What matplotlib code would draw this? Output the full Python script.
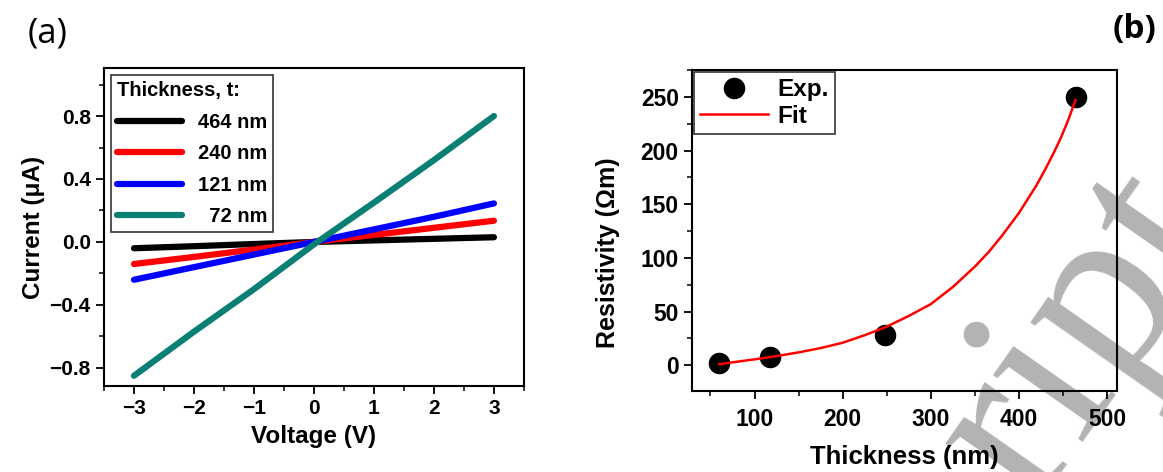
import matplotlib
matplotlib.use("Agg")
import matplotlib.pyplot as plt
from matplotlib.ticker import MultipleLocator

plt.rcParams["font.family"] = ["Liberation Sans", "DejaVu Sans"]
plt.rcParams["font.weight"] = "bold"

# (a) I-V curves
voltage = [-3, -2, -1, 0, 1, 2, 3]
i_464 = [-0.04, -0.027, -0.013, 0.0, 0.01, 0.02, 0.03]
i_240 = [-0.14, -0.095, -0.048, 0.0, 0.045, 0.09, 0.135]
i_121 = [-0.24, -0.16, -0.08, 0.0, 0.08, 0.16, 0.245]
i_72 = [-0.85, -0.57, -0.30, -0.015, 0.25, 0.52, 0.80]
iv_labels = ["464 nm", "240 nm", "121 nm", "\u200772 nm"]
iv_colors = ["black", "#ff0000", "#0000ff", "#0a7f74"]

# (b) resistivity vs thickness
thick_exp = [60, 118, 248, 465]
rho_exp = [2, 8, 28, 250]
thick_fit = [60, 100, 125, 150, 175, 200, 225, 250, 275, 300, 325, 350, 365, 380,
             390, 400, 410, 420, 430, 440, 448, 456, 464]
rho_fit = [1, 5.5, 8.5, 12, 16, 21, 28, 36, 46, 57, 73, 92, 105, 120,
           131, 142, 155, 168, 183, 199, 213, 229, 247]

fig = plt.figure(figsize=(11.63, 4.72), dpi=100)

# ---- panel (a) ----
ax1 = fig.add_axes([0.0894, 0.1822, 0.3611, 0.6737])
for ys, lab, col in zip([i_464, i_240, i_121, i_72], iv_labels, iv_colors):
    ax1.plot(voltage, ys, color=col, lw=4.5, label=lab, solid_capstyle="round")
ax1.set_xlim(-3.5, 3.5)
ax1.set_ylim(-0.915, 1.105)
ax1.set_xticks([-3, -2, -1, 0, 1, 2, 3])
ax1.set_yticks([-0.8, -0.4, 0.0, 0.4, 0.8])
ax1.xaxis.set_minor_locator(MultipleLocator(0.5))
ax1.yaxis.set_minor_locator(MultipleLocator(0.2))
ax1.tick_params(which="major", length=6, width=1.3, direction="out", labelsize=15)
ax1.tick_params(which="minor", length=3.5, width=1.1, direction="out")
ax1.set_xlabel("Voltage (V)", fontsize=17.5, fontweight="bold", labelpad=5)
ax1.set_ylabel("Current (\u03bcA)", fontsize=17.5, fontweight="bold", labelpad=3)
for s in ax1.spines.values():
    s.set_linewidth(1.5)
leg1 = ax1.legend(title="Thickness, t:", loc="upper left", fontsize=14.5,
                  title_fontproperties={"weight": "bold", "size": 14.5},
                  frameon=True, fancybox=False, edgecolor="black",
                  handlelength=3.2, borderaxespad=0.35, labelspacing=0.62,
                  borderpad=0.3, alignment="left")
leg1.get_frame().set_linewidth(1.2)
for t in leg1.get_texts():
    t.set_ha("right")

# ---- panel (b) ----
ax2 = fig.add_axes([0.595, 0.1716, 0.3654, 0.680])
ax2.plot(thick_exp, rho_exp, "o", color="black", ms=14.5, label="Exp.", zorder=2)
ax2.plot(thick_fit, rho_fit, color="#ff0000", lw=1.8, label="Fit", zorder=3)
ax2.set_xlim(29, 511)
ax2.set_ylim(-24, 275)
ax2.set_xticks([100, 200, 300, 400, 500])
ax2.set_yticks([0, 50, 100, 150, 200, 250])
ax2.xaxis.set_minor_locator(MultipleLocator(50))
ax2.yaxis.set_minor_locator(MultipleLocator(25))
ax2.tick_params(which="major", length=6, width=1.3, direction="out", labelsize=16.5)
ax2.tick_params(which="minor", length=3.5, width=1.1, direction="out")
ax2.tick_params(axis="x", pad=6)
ax2.set_xlabel("Thickness (nm)", fontsize=18.5, fontweight="bold", labelpad=10)
ax2.set_ylabel("Resistivity (\u03a9m)", fontsize=18, fontweight="bold")
ax2.yaxis.set_label_coords(-0.17, 0.43)
for s in ax2.spines.values():
    s.set_linewidth(1.5)
leg2 = ax2.legend(loc="upper left", fontsize=17.5, frameon=True, fancybox=False,
                  edgecolor="black", handlelength=2.8, borderaxespad=0.08,
                  labelspacing=0.15, handletextpad=0.4, borderpad=0.25)
leg2.get_frame().set_linewidth(1.2)

# panel labels
fig.text(0.024, 0.91, "(a)", fontsize=25, fontweight="normal",
         family=["Open Sans", "DejaVu Sans"])
fig.text(0.957, 0.92, "(b)", fontsize=24, fontweight="bold",
         family=["Open Sans", "DejaVu Sans"])

# watermark
fig.text(1226 / 1163, 1 - 232 / 472, "ript", fontsize=175,
         family=["Liberation Serif", "DejaVu Serif"], fontweight="normal",
         color="black", alpha=0.3, rotation=55, rotation_mode="anchor",
         ha="right", va="baseline")

fig.savefig("out.png", dpi=100)
